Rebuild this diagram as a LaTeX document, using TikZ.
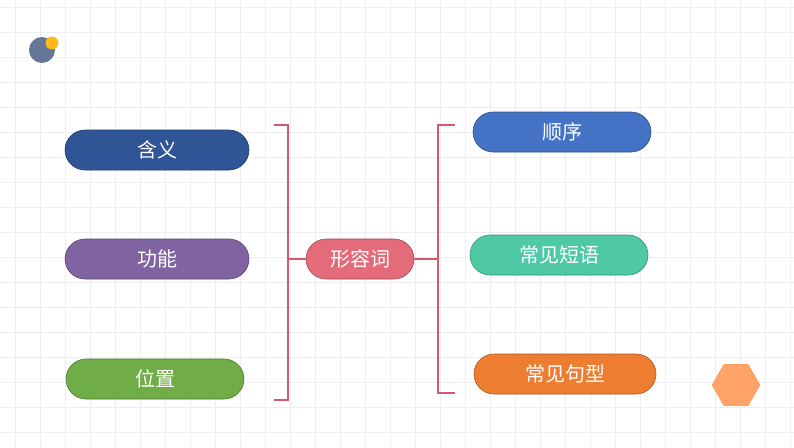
\documentclass[tikz,border=0pt]{standalone}
\usepackage{fontspec}
\newfontfamily\cjk{Noto Sans CJK SC}
\usetikzlibrary{shapes.geometric}
\begin{document}
\begin{tikzpicture}[x=1pt,y=-1pt,
 pill/.style={rounded corners=20pt,minimum height=40pt,text=white,font=\cjk\fontsize{20}{20}\selectfont,draw=#1!70!black,fill=#1,line width=0.6pt},
 br/.style={draw=brk,line width=1.3pt}]
\definecolor{c1}{HTML}{2F5597}\definecolor{c2}{HTML}{8064A2}\definecolor{c3}{HTML}{70AD47}
\definecolor{c4}{HTML}{E46C7A}\definecolor{c5}{HTML}{4472C4}\definecolor{c6}{HTML}{4FC9A5}
\definecolor{c7}{HTML}{ED7D31}\definecolor{brk}{HTML}{D05A6E}\definecolor{gridc}{HTML}{EEEEF2}
\useasboundingbox (0,0) rectangle (794,447);
\fill[white] (0,0) rectangle (794,447);
\foreach \x in {15,40,...,790} \draw[gridc,line width=0.4pt] (\x,0)--(\x,447);
\foreach \y in {7,32,...,447} \draw[gridc,line width=0.4pt] (0,\y)--(794,\y);
\fill[fill=c1!55!gray!90!white] (42,50) circle (13);
\fill[fill=orange!60!yellow!90!white] (52,43) circle (6.5);
\node[regular polygon,regular polygon sides=6,minimum size=48pt,fill=orange!45!pink,draw=orange!60!pink,inner sep=0] (hx) at (736,385) {};
\node[pill=c1,minimum width=184pt] (a) at (157,150) {含义};
\node[pill=c2,minimum width=184pt] (b) at (157,259) {功能};
\node[pill=c3,minimum width=178pt] (c) at (155,379) {位置};
\node[pill=c4,minimum width=108pt] (m) at (360,259) {形容词};
\node[pill=c5,minimum width=178pt] (d) at (562,132) {顺序};
\node[pill=c6,minimum width=178pt] (e) at (559,255) {常见短语};
\node[pill=c7,minimum width=182pt] (f) at (565,374) {常见句型};
\coordinate (lt) at (274,125); \coordinate (lb) at (274,400);
\coordinate (rt) at (455,125); \coordinate (rb) at (455,393);
\draw[br] (lt) -- (288,125) -- (288,400) -- (lb);
\draw[br] (288,259) -- (m.west);
\draw[br] (rt) -- (438,125) -- (438,393) -- (rb);
\draw[br] (m.east) -- (438,259);
\end{tikzpicture}
\end{document}
